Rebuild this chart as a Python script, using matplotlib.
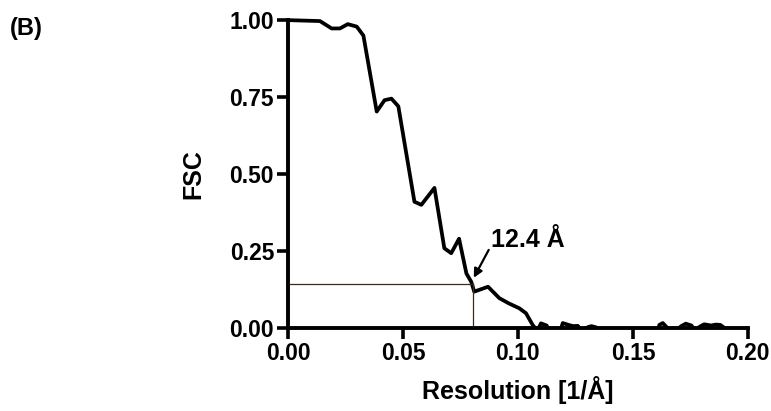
import numpy as np
import matplotlib.pyplot as plt
from matplotlib.transforms import Bbox, TransformedBbox

plt.rcParams['font.family'] = ['Liberation Sans', 'DejaVu Sans']
plt.rcParams['font.weight'] = 'bold'

# FSC curve
res = [0.0, 0.0139, 0.019, 0.0226, 0.026, 0.0299, 0.0328, 0.0386, 0.042, 0.045,
       0.048, 0.055, 0.058, 0.0637, 0.068, 0.071, 0.0744, 0.0776, 0.0797, 0.081,
       0.087, 0.0919, 0.096, 0.1006, 0.1035, 0.1064, 0.1085,
       0.110, 0.1125, 0.114, 0.118, 0.1195, 0.122, 0.124, 0.126, 0.128, 0.1305,
       0.132, 0.134, 0.136, 0.160, 0.1615, 0.163, 0.1645, 0.167, 0.171, 0.173,
       0.1755, 0.177, 0.179, 0.181, 0.184, 0.186, 0.188, 0.1895, 0.191, 0.200]
fsc = [1.0, 0.997, 0.973, 0.973, 0.987, 0.979, 0.95, 0.703, 0.74, 0.745,
       0.72, 0.41, 0.40, 0.455, 0.259, 0.243, 0.29, 0.177, 0.15, 0.118,
       0.134, 0.097, 0.08, 0.064, 0.048, 0.01, -0.01,
       0.015, 0.008, -0.02, -0.02, 0.016, 0.01, 0.006, 0.007, -0.01, 0.003,
       0.006, 0.002, -0.03, -0.03, 0.01, 0.016, 0.004, -0.02, 0.006, 0.014,
       0.008, -0.01, 0.004, 0.012, 0.008, 0.011, 0.01, 0.002, -0.02, -0.02]

cutoff_fsc = 0.143
cutoff_res = 1 / 12.4
xticks = [0.00, 0.05, 0.10, 0.15, 0.20]
yticks = [0.00, 0.25, 0.50, 0.75, 1.00]

fig = plt.figure(figsize=(7.71, 4.11), dpi=100)
ax = fig.add_axes([0.3735, 0.202, 0.5965, 0.749])

line, = ax.plot(res, fsc, color='black', lw=2.7, solid_joinstyle='round',
                solid_capstyle='round')
line.set_clip_box(TransformedBbox(Bbox([[-0.02, 0.0], [1.02, 1.05]]), ax.transAxes))

ax.plot([0, cutoff_res], [cutoff_fsc, cutoff_fsc], color='#3a2a20', lw=0.9)
ax.plot([cutoff_res, cutoff_res], [0, cutoff_fsc], color='#3a2a20', lw=0.9)

ax.annotate('12.4 Å', xy=(0.0808, 0.163), xytext=(0.0885, 0.286),
            fontsize=18, fontweight='bold', va='center', ha='left',
            arrowprops=dict(arrowstyle='-|>', color='black', lw=1.6,
                            mutation_scale=13, shrinkA=0, shrinkB=0,
                            relpos=(0.0, 0.3)))

ax.set_xlim(0, 0.2)
ax.set_ylim(0, 1)
ax.set_xticks(xticks)
ax.set_yticks(yticks)
ax.set_xticklabels(['%.2f' % v for v in xticks])
ax.set_yticklabels(['%.2f' % v for v in yticks])
ax.tick_params(labelsize=16.5, width=2.6, length=8, direction='out', pad=2)
for s in ['top', 'right']:
    ax.spines[s].set_visible(False)
for s in ['left', 'bottom']:
    ax.spines[s].set_linewidth(2.8)

ax.set_xlabel('Resolution [1/Å]', fontsize=18, fontweight='bold', labelpad=8)
ax.set_ylabel('FSC', fontsize=18, fontweight='bold', labelpad=17)

fig.text(0.013, 0.93, '(B)', fontsize=17, fontweight='bold', va='center')

fig.savefig('out.png', dpi=100)
